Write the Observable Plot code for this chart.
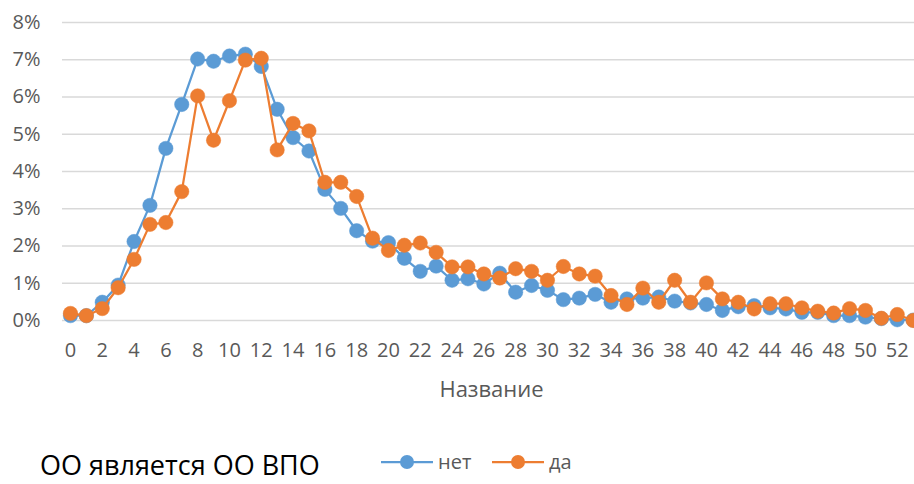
<!DOCTYPE html>
<html>
<head>
<meta charset="utf-8">
<script src="https://cdn.jsdelivr.net/npm/d3@7"></script>
<script src="https://cdn.jsdelivr.net/npm/@observablehq/plot@0.6"></script>
<style>
  body { margin: 0; background: #fff; font-family: "Open Sans", sans-serif; }
  #wrap { width: 914px; height: 484px; overflow: hidden; position: relative; }
  #foot { position: relative; width: 914px; height: 74px; }
  .leg { position: absolute; display: flex; align-items: center; font-size: 20px; color: #595959; }
  #title { position: absolute; left: 40px; top: 43px; font-size: 27px; line-height: 24px; color: #000; white-space: nowrap; }
</style>
</head>
<body>
<div id="wrap">
  <div id="chart"></div>
  <div id="foot"></div>
</div>
<script>
// ---- data ----
const categories = [0,1,2,3,4,5,6,7,8,9,10,11,12,13,14,15,16,17,18,19,20,21,22,23,24,25,26,27,28,29,30,31,32,33,34,35,36,37,38,39,40,41,42,43,44,45,46,47,48,49,50,51,52,53];
const netValues = [0.13,0.13,0.49,0.95,2.12,3.09,4.62,5.80,7.02,6.96,7.10,7.15,6.82,5.67,4.91,4.55,3.52,3.01,2.41,2.13,2.09,1.67,1.32,1.46,1.08,1.12,0.98,1.27,0.76,0.94,0.81,0.56,0.60,0.70,0.49,0.58,0.60,0.63,0.52,0.47,0.43,0.27,0.37,0.40,0.34,0.31,0.22,0.22,0.13,0.13,0.09,0.05,0.02,0.01];
const daValues = [0.19,0.13,0.32,0.88,1.64,2.58,2.63,3.46,6.03,4.84,5.90,6.99,7.04,4.58,5.29,5.09,3.71,3.71,3.33,2.21,1.88,2.02,2.08,1.83,1.44,1.44,1.25,1.14,1.39,1.32,1.08,1.45,1.25,1.19,0.67,0.43,0.87,0.49,1.08,0.49,1.01,0.58,0.49,0.31,0.45,0.45,0.34,0.25,0.20,0.32,0.27,0.06,0.16,0.00];
const xTicks = [0,2,4,6,8,10,12,14,16,18,20,22,24,26,28,30,32,34,36,38,40,42,44,46,48,50,52];
const yTicks = [0,1,2,3,4,5,6,7,8];
const seriesNames = ["нет", "да"];
const seriesColors = ["#5B9BD5", "#ED7D31"];
const xLabel = "Название";
const legendTitle = "ОО является ОО ВПО";

const netRows = categories.map((c, i) => ({x: c, y: netValues[i]}));
const daRows = categories.map((c, i) => ({x: c, y: daValues[i]}));

const chart = Plot.plot({
  width: 914,
  height: 410,
  marginLeft: 62,
  marginRight: 0,
  marginTop: 22,
  marginBottom: 90,
  style: {fontFamily: "'Open Sans', sans-serif", background: "#fff", overflow: "visible"},
  x: {domain: [-0.5, 53.085], label: null},
  y: {domain: [0, 8], label: null},
  marks: [
    Plot.gridY(yTicks, {stroke: "#D9D9D9", strokeOpacity: 1, strokeWidth: 1.3}),
    Plot.axisY(yTicks, {tickSize: 0, tickPadding: 22, tickFormat: d => d + "%", fontSize: 20, fill: "#595959", label: null}),
    Plot.axisX(xTicks, {tickSize: 0, tickPadding: 22, fontSize: 20, fill: "#595959", label: null}),
    Plot.text([xLabel], {frameAnchor: "bottom", dy: 76, dx: 3, fontSize: 22, fill: "#595959"}),
    Plot.line(netRows, {x: "x", y: "y", stroke: seriesColors[0], strokeWidth: 2.25}),
    Plot.dot(netRows, {x: "x", y: "y", r: 7.2, fill: seriesColors[0], stroke: seriesColors[0], strokeWidth: 0.5}),
    Plot.line(daRows, {x: "x", y: "y", stroke: seriesColors[1], strokeWidth: 2.25}),
    Plot.dot(daRows, {x: "x", y: "y", r: 7.2, fill: seriesColors[1], stroke: seriesColors[1], strokeWidth: 0.5})
  ]
});
document.getElementById("chart").appendChild(chart);

// ---- legend (HTML, below the SVG) ----
const foot = document.getElementById("foot");
const legLefts = [381, 492];
seriesNames.forEach((name, i) => {
  const item = document.createElement("div");
  item.className = "leg";
  item.style.left = legLefts[i] + "px";
  item.style.top = "38px";
  item.innerHTML =
    `<svg width="52" height="28" style="display:block"><line x1="0" x2="52" y1="14" y2="14" stroke="${seriesColors[i]}" stroke-width="2.25"/><circle cx="26" cy="14" r="7" fill="${seriesColors[i]}"/></svg>` +
    `<span style="margin-left:5px;line-height:28px">${name}</span>`;
  foot.appendChild(item);
});
const t = document.createElement("div");
t.id = "title";
t.textContent = legendTitle;
foot.appendChild(t);
</script>
</body>
</html>
